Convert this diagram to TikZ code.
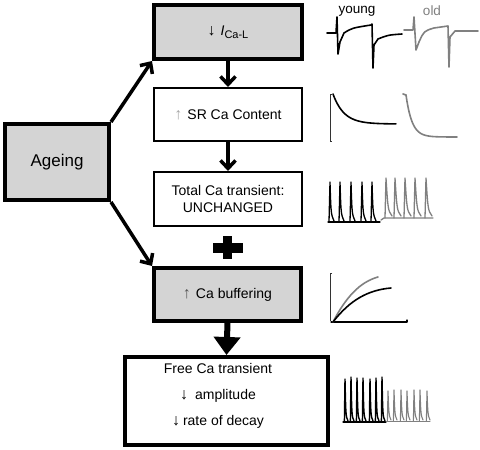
\documentclass[tikz,border=0pt]{standalone}
\usepackage{fontspec}
\setmainfont{Liberation Sans}
\usetikzlibrary{arrows.meta}
\definecolor{boxgray}{HTML}{D4D4D4}
\definecolor{oldgray}{HTML}{808080}
\definecolor{lightarrow}{HTML}{A8A8A8}
\definecolor{midarrow}{HTML}{555555}
\newcommand{\myarr}[1]{{\fontsize{16}{17}\selectfont #1}}
\begin{document}
\begin{tikzpicture}[x=1pt,y=-1pt,
  box/.style={draw, line width=2pt, inner sep=0pt, align=center, font=\fontsize{14}{17}\selectfont},
  thickbox/.style={box, line width=4pt, fill=boxgray},
  conn/.style={line width=3.5pt, -{Straight Barb[length=8pt,width=15pt]}},
  bigconn/.style={line width=6pt, -{Triangle[length=18pt,width=26pt]}},
  trace/.style={line width=1.6pt, line join=round, line cap=round},
  oldtrace/.style={trace, oldgray},
  txt/.style={inner sep=0pt, font=\fontsize{14}{17}\selectfont},
  scalebar/.style={line width=1pt, black!80}
]
\useasboundingbox (0,0) rectangle (480,450);
\fill[white] (0,0) rectangle (480,450);

% boxes
\node[thickbox, minimum width=148pt, minimum height=54pt] (ica) at (228,32) {\myarr{↓}\hspace{5pt}\textit{I}\raisebox{-3pt}{\fontsize{11}{12}\selectfont Ca-L}};
\node[box, minimum width=148pt, minimum height=53pt] (sr) at (228,114.5) {{\color{lightarrow}\myarr{↑}}\hspace{5pt}SR Ca Content};
\node[box, minimum width=148pt, minimum height=54pt] (tot) at (228,199) {Total Ca transient:\\UNCHANGED};
\node[thickbox, minimum width=147pt, minimum height=53pt] (buf) at (227.5,294.5) {{\color{midarrow}\myarr{↑}}\hspace{5pt}Ca buffering};
\node[box, line width=4pt, minimum width=203pt, minimum height=88pt] (free) at (226.5,401) {};
\node[txt, align=center, font=\fontsize{14}{26}\selectfont] (freetxt) at (218,396) {Free Ca transient\\\myarr{↓}\hspace{7pt}amplitude\\\myarr{↓}\hspace{3pt}rate of decay};
\node[thickbox, minimum width=104pt, minimum height=76pt, font=\fontsize{17}{20}\selectfont] (age) at (57,162) {Ageing};

% connectors
\draw[conn] (age.north east) -- (ica.south west);
\draw[conn] (age.south east) -- (buf.north west);
\draw[conn] (ica.south) -- (sr.north);
\draw[conn] (sr.south) -- (tot.north);
\draw[bigconn] (buf.south) -- (free.north);

% plus sign
\fill (213,243) rectangle (243,253);
\fill (223,236) rectangle (232,259);

% labels young / old
\node[txt, font=\fontsize{13.5}{15}\selectfont] (young) at (357,11) {young};
\node[txt, font=\fontsize{13.5}{15}\selectfont, text=oldgray] (old) at (432,11) {old};

% row 1: Ca current traces
\draw[trace] (327,33) -- (336,33) -- (337,17) -- (338,54) -- (340,42) -- (344,33)
  .. controls (352,28) .. (371,25) -- (372,24) -- (373,68) -- (374,45) -- (378,39)
  .. controls (388,35) .. (402,34);
\draw[oldtrace] (404,30) -- (413,30) -- (414,17) -- (416,50) -- (419,42)
  .. controls (424,31) .. (434,28) -- (448,26) -- (449,67) -- (450,37) -- (455,31) -- (478,31);

% row 2: SR content (caffeine) traces
\draw[scalebar] (332,94) -- (330,94) -- (330,141) -- (332,141);
\draw[trace] plot[domain=0:63, samples=50] ({333+\x},{124-30*exp(-\x/11)});
\draw[oldtrace] (403,94) -- (406,95);
\draw[oldtrace] plot[domain=0:51, samples=50] ({406+\x},{137-42*exp(-\x/6)});

% row 3: total Ca transients
\draw[trace, line width=1.3pt] (328,222) -- (380,222);
\foreach \s in {330,340,351,362,372}
  \draw[trace, line width=1.3pt] (\s-1,222) -- (\s,182) .. controls (\s+1,214) .. (\s+4,221);
\draw[oldtrace, line width=1.3pt] (381,220) -- (384,218) -- (433,218);
\foreach \s in {386,395,405,415,426}
  \draw[oldtrace, line width=1.3pt] (\s-1,218) -- (\s,178) .. controls (\s+2,210) .. (\s+6,216);

% row 4: buffering curves
\draw[scalebar] (332,273) -- (330,273) -- (330,321);
\draw[trace, line width=1.3pt] (331,322) -- (407,322) -- (407,320);
\draw[oldtrace] (333,322) .. controls (346,297) and (360,282) .. (378,277);
\draw[trace] (333,322) .. controls (350,300) and (368,290) .. (391,288);

% row 5: free Ca transients
\draw[trace, line width=1.2pt] (343,422) -- (386,422);
\foreach \s/\p in {345/379,351/377,357/378,363/378,370/379,376/378,382/377}
  \draw[trace, line width=1.4pt] (\s-0.6,422) -- (\s,\p) .. controls (\s+0.8,416) .. (\s+3,421);
\draw[oldtrace, line width=1pt] (386,421) -- (430,421);
\foreach \s/\p in {388/391,394/390,401/390,407/391,414/390,420/390,427/391}
  \draw[oldtrace, line width=1.1pt] (\s-0.6,421) -- (\s,\p) .. controls (\s+0.9,415) .. (\s+3,420);
\end{tikzpicture}
\end{document}
